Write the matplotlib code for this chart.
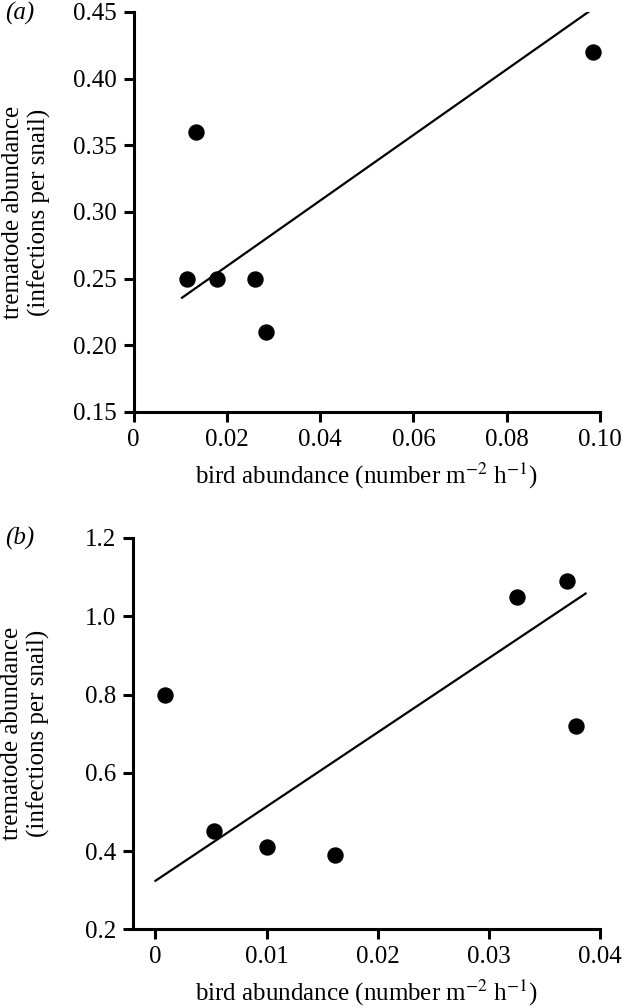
import matplotlib
matplotlib.use("Agg")
import matplotlib.pyplot as plt

# Panel (a) data
a_bird = [0.0115, 0.0133, 0.0178, 0.0260, 0.0283, 0.0985]
a_trem = [0.25, 0.36, 0.25, 0.25, 0.21, 0.42]
a_line_x = [0.0104, 0.0979]
a_line_y = [0.2357, 0.451]
a_xticks = [0, 0.02, 0.04, 0.06, 0.08, 0.10]
a_xticklabels = ["0", "0.02", "0.04", "0.06", "0.08", "0.10"]
a_yticks = [0.15, 0.20, 0.25, 0.30, 0.35, 0.40, 0.45]
a_yticklabels = ["0.15", "0.20", "0.25", "0.30", "0.35", "0.40", "0.45"]

# Panel (b) data
b_bird = [0.0009, 0.0053, 0.0100, 0.0162, 0.0325, 0.0370, 0.0378]
b_trem = [0.80, 0.45, 0.41, 0.39, 1.05, 1.09, 0.72]
b_line_x = [0.0, 0.0387]
b_line_y = [0.324, 1.058]
b_xticks = [0, 0.01, 0.02, 0.03, 0.04]
b_xticklabels = ["0", "0.01", "0.02", "0.03", "0.04"]
b_yticks = [0.2, 0.4, 0.6, 0.8, 1.0, 1.2]
b_yticklabels = ["0.2", "0.4", "0.6", "0.8", "1.0", "1.2"]

plt.rcParams['font.family'] = ['Liberation Serif', 'DejaVu Serif']
plt.rcParams['mathtext.fontset'] = 'stix'

W, H = 631, 1008
fig = plt.figure(figsize=(W / 100, H / 100), dpi=100)

def px_axes(l, r, t, b):
    return fig.add_axes([l / W, 1 - b / H, (r - l) / W, (b - t) / H])

axA = px_axes(133.5, 600, 12, 412)
axB = px_axes(133, 600, 538, 929.3)

FS = 18
xlabel = r'bird abundance (number m$^{-2}$ h$^{-1}$)'
ylabel = 'trematode abundance\n(infections per snail)'

def style(ax, xticks, xtl, yticks, ytl, xlim, ylim):
    ax.set_xlim(*xlim)
    ax.set_ylim(*ylim)
    for s in ['top', 'right']:
        ax.spines[s].set_visible(False)
    for s in ['left', 'bottom']:
        ax.spines[s].set_linewidth(2.2)
    ax.set_xticks(xticks)
    ax.set_xticklabels(xtl)
    ax.set_yticks(yticks)
    ax.set_yticklabels(ytl)
    ax.tick_params(direction='out', length=7, width=2.2, labelsize=FS, pad=5)
    ax.set_xlabel(xlabel, fontsize=FS, labelpad=7)
    ax.text(-0.23, 0.5, ylabel, transform=ax.transAxes, rotation=90,
            ha='center', va='center', fontsize=FS, linespacing=1.2,
            multialignment='center')

axA.plot(a_line_x, a_line_y, color='black', lw=1.6, zorder=2)
axA.plot(a_bird, a_trem, 'o', color='black', ms=10.8, zorder=3, clip_on=False)
style(axA, a_xticks, a_xticklabels, a_yticks, a_yticklabels, (0, 0.10), (0.15, 0.45))

axB.plot(b_line_x, b_line_y, color='black', lw=1.6, zorder=2)
axB.plot(b_bird, b_trem, 'o', color='black', ms=10.8, zorder=3, clip_on=False)
style(axB, b_xticks, b_xticklabels, b_yticks, b_yticklabels, (-0.00202, 0.04), (0.2, 1.2))

fig.text(5 / W, 1 - 13 / H, '(a)', fontsize=FS, style='italic', ha='left', va='center')
fig.text(5 / W, 1 - 538 / H, '(b)', fontsize=FS, style='italic', ha='left', va='center')

fig.savefig('out.png', dpi=100)
